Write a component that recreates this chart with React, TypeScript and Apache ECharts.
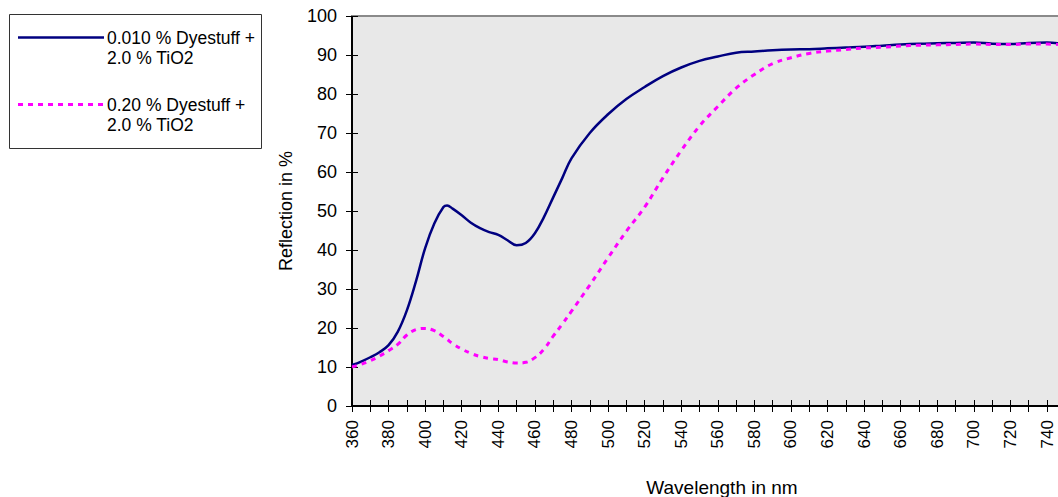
import React, { useEffect, useRef } from "react";
import * as echarts from "echarts";

const wavelengths = [
  360, 365, 370, 375, 380, 385, 390, 395, 400, 405, 410, 412, 415, 420, 425, 430, 435, 440, 445, 450, 455,
  460, 465, 470, 475, 480, 490, 500, 510, 520, 530, 540, 550, 560, 570, 580, 590, 600, 610, 620, 630,
  640, 650, 660, 670, 680, 690, 700, 710, 720, 730, 740, 746,
];

const dye010 = [
  10.5, 11.4, 12.5, 13.8, 15.6, 19.0, 24.5, 32.0, 40.5, 46.8, 51.0, 51.4, 50.6, 48.9, 47.0, 45.6, 44.6, 43.9, 42.5, 41.2, 41.8,
  44.3, 48.5, 53.5, 58.5, 63.5, 70.0, 74.8, 78.7, 81.8, 84.6, 86.8, 88.5, 89.6, 90.6, 90.9, 91.2, 91.4, 91.5, 91.7, 91.9,
  92.1, 92.4, 92.7, 92.9, 93.0, 93.1, 93.2, 92.9, 92.8, 93.1, 93.2, 93.0,
];

const dye020 = [
  10.0, 10.7, 11.6, 12.8, 14.2, 15.8, 18.2, 19.6, 19.9, 19.3, 17.8, 17.1, 16.0, 14.6, 13.5, 12.7, 12.2, 11.9, 11.3, 11.0, 11.2,
  12.4, 14.6, 17.9, 21.0, 24.3, 31.0, 38.0, 44.8, 51.0, 58.5, 65.5, 71.8, 76.8, 81.5, 85.0, 87.8, 89.3, 90.4, 91.0, 91.4,
  91.8, 92.0, 92.3, 92.5, 92.6, 92.7, 92.8, 92.7, 92.7, 92.8, 92.8, 92.7,
];

const seriesNames = ["0.010 % Dyestuff +\n2.0 % TiO2", "0.20 % Dyestuff +\n2.0 % TiO2"];
const xTitle = "Wavelength in nm";
const yTitle = "Reflection in %";

const FONT = "'Liberation Sans', Arial, sans-serif";

export default function App() {
  const ref = useRef<HTMLDivElement>(null);
  useEffect(() => {
    document.body.style.margin = "0";
    document.body.style.overflow = "hidden";
    const chart = echarts.init(ref.current!, null, { renderer: "svg" });
    const pairs = (ys: number[]) => wavelengths.map((w, i) => [w, ys[i]]);
    const xBase = { type: "value", min: 360, max: 746, interval: 10, gridIndex: 0 };
    const yBase = { type: "value", min: 0, max: 100, interval: 10, gridIndex: 0 };
    const legendLines = (names: string, y: number) =>
      names.split("\n").map((t, i) => ({
        type: "text",
        x: 107,
        y: y + i * 20,
        style: { text: t, fill: "#000", font: `17.5px ${FONT}`, textVerticalAlign: "middle" },
      }));
    chart.setOption({
      animation: false,
      grid: {
        left: 352,
        top: 16,
        right: 0,
        bottom: 91,
        show: true,
        backgroundColor: "#e8e8e8",
        borderWidth: 0,
      },
      xAxis: [
        {
          ...xBase,
          position: "bottom",
          axisLine: { show: true, onZero: false, lineStyle: { color: "#000", width: 2 } },
          axisTick: { show: true, length: 6, lineStyle: { color: "#000", width: 1 } },
          axisLabel: {
            show: true,
            rotate: 90,
            margin: 14,
            color: "#000",
            fontFamily: FONT,
            fontSize: 17,
            formatter: (v: number) => (v % 20 === 0 && v <= 740 ? String(v) : ""),
          },
          splitLine: { show: false },
        },
        {
          ...xBase,
          position: "bottom",
          axisLine: { show: false },
          axisTick: { show: true, inside: true, length: 6, lineStyle: { color: "#000", width: 1 } },
          axisLabel: { show: false },
          splitLine: { show: false },
        },
        {
          ...xBase,
          position: "top",
          axisLine: { show: true, onZero: false, lineStyle: { color: "#8a8a8a", width: 2 } },
          axisTick: { show: false },
          axisLabel: { show: false },
          splitLine: { show: false },
        },
      ],
      yAxis: [
        {
          ...yBase,
          position: "left",
          axisLine: { show: true, onZero: false, lineStyle: { color: "#000", width: 2 } },
          axisTick: { show: true, length: 6, lineStyle: { color: "#000", width: 1 } },
          axisLabel: { show: true, margin: 15, color: "#000", fontFamily: FONT, fontSize: 18 },
          splitLine: { show: false },
        },
        {
          ...yBase,
          position: "left",
          axisLine: { show: false },
          axisTick: { show: true, inside: true, length: 6, lineStyle: { color: "#000", width: 1 } },
          axisLabel: { show: false },
          splitLine: { show: false },
        },
      ],
      series: [
        {
          name: seriesNames[0],
          type: "line",
          xAxisIndex: 0,
          yAxisIndex: 0,
          data: pairs(dye010),
          smooth: 0.4,
          showSymbol: false,
          lineStyle: { color: "#000080", width: 2.5 },
        },
        {
          name: seriesNames[1],
          type: "line",
          xAxisIndex: 0,
          yAxisIndex: 0,
          data: pairs(dye020),
          smooth: 0.4,
          showSymbol: false,
          lineStyle: { color: "#ff00ff", width: 3, type: [5, 5] },
        },
      ],
      graphic: [
        {
          type: "rect",
          shape: { x: 9.5, y: 14.5, width: 252, height: 134 },
          style: { fill: "#fff", stroke: "#333", lineWidth: 1 },
        },
        {
          type: "line",
          shape: { x1: 18, y1: 37.5, x2: 104, y2: 37.5 },
          style: { stroke: "#000080", lineWidth: 2.5 },
        },
        {
          type: "line",
          shape: { x1: 18, y1: 104.5, x2: 104, y2: 104.5 },
          style: { stroke: "#ff00ff", lineWidth: 3, lineDash: [5, 5] },
        },
        ...legendLines(seriesNames[0], 38),
        ...legendLines(seriesNames[1], 105),
        {
          type: "text",
          x: 722,
          y: 487,
          style: {
            text: xTitle,
            fill: "#000",
            font: `19px ${FONT}`,
            textAlign: "center",
            textVerticalAlign: "middle",
          },
        },
        {
          type: "text",
          x: 286,
          y: 211,
          rotation: Math.PI / 2,
          style: {
            text: yTitle,
            fill: "#000",
            font: `18px ${FONT}`,
            textAlign: "center",
            textVerticalAlign: "middle",
          },
        },
      ],
    });
    return () => chart.dispose();
  }, []);
  return <div ref={ref} style={{ width: 1058, height: 497 }} />;
}
